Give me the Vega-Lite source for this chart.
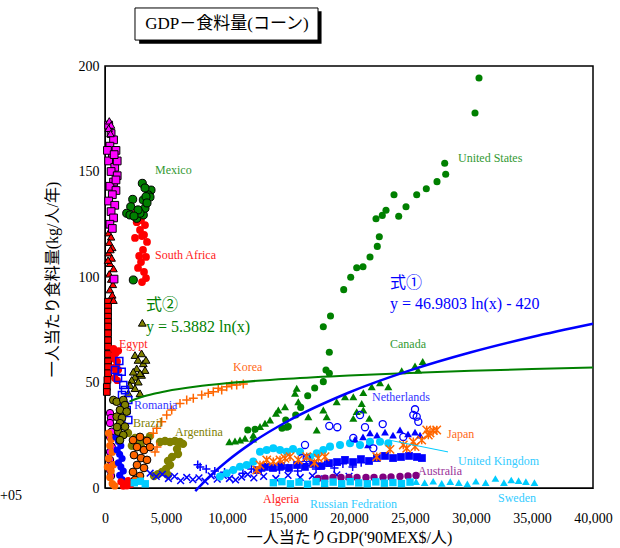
{
  "$schema": "https://vega.github.io/schema/vega-lite/v6.json",
  "width": 488,
  "height": 422,
  "autosize": "none",
  "padding": {"left": 105, "top": 66, "right": 27, "bottom": 60},
  "background": "white",
  "config": {"view": {"stroke": "black", "strokeWidth": 1.5}, "font": "Liberation Serif"},
  "datasets": {
    "titlebox": [{"x": 2459, "x2": 17460, "y": 227.5, "y2": 212.3}],
    "titleshadow": [{"x": 2800, "x2": 17750, "y": 226.0, "y2": 210.6}],
    "titletext": [{"x": 10000, "y": 220.0, "t": "GDP－食料量(コーン)"}],
    "redsq": [{"x":250,"y":88.3},{"x":250,"y":85.9},{"x":250,"y":83.6},{"x":250,"y":81.2},{"x":250,"y":78.8},{"x":250,"y":76.5},{"x":250,"y":73.3},{"x":250,"y":70.0},{"x":250,"y":67.0},{"x":250,"y":63.5},{"x":250,"y":60.0},{"x":250,"y":57.3},{"x":250,"y":54.4},{"x":200,"y":51.2},{"x":150,"y":47.9},{"x":150,"y":45.5}],
    "redtri": [{"x":300,"y":121},{"x":500,"y":119},{"x":350,"y":116.5},{"x":600,"y":114},{"x":300,"y":111.5},{"x":550,"y":109},{"x":400,"y":106.5},{"x":700,"y":104},{"x":350,"y":101.5},{"x":500,"y":99},{"x":650,"y":96.5},{"x":400,"y":94},{"x":600,"y":91.5},{"x":700,"y":89},{"x":450,"y":113},{"x":250,"y":108}],
    "magsq": [{"x":300,"y":172},{"x":500,"y":168},{"x":700,"y":165},{"x":400,"y":162},{"x":900,"y":160},{"x":600,"y":157},{"x":300,"y":155},{"x":800,"y":152},{"x":500,"y":150},{"x":1000,"y":148},{"x":700,"y":145},{"x":400,"y":143},{"x":900,"y":141},{"x":600,"y":139},{"x":300,"y":136},{"x":800,"y":134},{"x":500,"y":131},{"x":700,"y":128},{"x":400,"y":125},{"x":600,"y":123},{"x":900,"y":146},{"x":1000,"y":155},{"x":200,"y":160},{"x":750,"y":158},{"x":740,"y":99}],
    "magtri": [{"x":350,"y":174},{"x":500,"y":172},{"x":300,"y":170.5},{"x":450,"y":168}],
    "magcirc": [{"x":410,"y":35.5},{"x":492,"y":33.2},{"x":410,"y":30.8},{"x":549,"y":26.7},{"x":410,"y":24.2},{"x":549,"y":19.6},{"x":410,"y":17.1},{"x":410,"y":13.3},{"x":549,"y":10.9},{"x":410,"y":8.5},{"x":492,"y":5.7}],
    "egypt": [{"x":700,"y":66},{"x":900,"y":64},{"x":1100,"y":65},{"x":800,"y":61},{"x":1000,"y":60},{"x":700,"y":57},{"x":900,"y":55},{"x":1100,"y":56},{"x":800,"y":52},{"x":1000,"y":51},{"x":750,"y":63},{"x":950,"y":58}],
    "orangefill": [{"x":300,"y":26},{"x":500,"y":23},{"x":400,"y":20},{"x":600,"y":17},{"x":300,"y":14},{"x":700,"y":11},{"x":500,"y":8},{"x":400,"y":5},{"x":600,"y":2},{"x":800,"y":1},{"x":200,"y":10}],
    "bluefill": [{"x":900,"y":24},{"x":1100,"y":22},{"x":1300,"y":20},{"x":1000,"y":18},{"x":1200,"y":16},{"x":1400,"y":14},{"x":1100,"y":12},{"x":1300,"y":10},{"x":1500,"y":8},{"x":1200,"y":6},{"x":1400,"y":4},{"x":1600,"y":3}],
    "algeria": [{"x":1300,"y":3},{"x":1600,"y":2},{"x":1900,"y":3.5},{"x":2100,"y":1.5},{"x":1500,"y":0.8},{"x":1800,"y":1}],
    "orangecirc": [{"x":2295,"y":22.7},{"x":2869,"y":24.2},{"x":3443,"y":22.3},{"x":2623,"y":19.4},{"x":3197,"y":18.0},{"x":3689,"y":19.4},{"x":2377,"y":15.6},{"x":2951,"y":14.2},{"x":3443,"y":13.3},{"x":2623,"y":10.9},{"x":3197,"y":9.5},{"x":2295,"y":7.6},{"x":2869,"y":5.7},{"x":2459,"y":3.8}],
    "olivetri": [{"x":3058,"y":78.3},{"x":2459,"y":63.0},{"x":3000,"y":63.8},{"x":2705,"y":60.7},{"x":3140,"y":59.1},{"x":2599,"y":56.7},{"x":3279,"y":55.9},{"x":2459,"y":52.7},{"x":3000,"y":53.6},{"x":2320,"y":55.1},{"x":2869,"y":54.4},{"x":2189,"y":51.2},{"x":2730,"y":50.4},{"x":2050,"y":48.8},{"x":2459,"y":47.3},{"x":1910,"y":44.9},{"x":2869,"y":44.9},{"x":3361,"y":60.7}],
    "romania": [{"x":1172,"y":60.2},{"x":820,"y":55.9},{"x":1369,"y":55.1},{"x":1066,"y":52.1},{"x":1500,"y":48.8},{"x":1639,"y":46.4},{"x":1393,"y":44.1},{"x":1910,"y":41.7},{"x":1779,"y":37.0},{"x":1910,"y":32.2},{"x":1557,"y":39.3}],
    "brazil": [{"x":680,"y":41.7},{"x":959,"y":40.9},{"x":1500,"y":41.7},{"x":1639,"y":39.3},{"x":1230,"y":37.0},{"x":1779,"y":36.2},{"x":959,"y":33.8},{"x":1393,"y":33.2},{"x":1230,"y":30.7},{"x":1639,"y":29.1},{"x":1090,"y":26.7},{"x":1500,"y":25.1},{"x":1230,"y":22.7},{"x":984,"y":28.9}],
    "argentina": [{"x":4508,"y":21.8},{"x":4918,"y":22.3},{"x":5328,"y":21.8},{"x":5738,"y":22.3},{"x":6148,"y":21.8},{"x":6394,"y":20.9},{"x":5902,"y":18.5},{"x":5984,"y":16.1},{"x":5492,"y":14.7},{"x":5164,"y":12.8},{"x":5328,"y":10.9},{"x":5000,"y":9.0},{"x":4672,"y":7.6},{"x":4344,"y":6.6},{"x":5164,"y":6.2},{"x":4016,"y":5.7},{"x":1885,"y":26.1},{"x":2459,"y":23.7},{"x":2869,"y":21.3},{"x":3279,"y":22.7},{"x":3689,"y":24.6},{"x":2200,"y":20},{"x":3000,"y":19}],
    "mexico": [{"x":3058,"y":144.4},{"x":3771,"y":141.2},{"x":3550,"y":138.9},{"x":3279,"y":142.2},{"x":3689,"y":137.9},{"x":3140,"y":136.5},{"x":2271,"y":136.8},{"x":2107,"y":133.3},{"x":1779,"y":130.2},{"x":2050,"y":129.4},{"x":2599,"y":127.8},{"x":3140,"y":129.4},{"x":3279,"y":132.6},{"x":2869,"y":130.2},{"x":3361,"y":138.1},{"x":2705,"y":131.8},{"x":2377,"y":128.9},{"x":3443,"y":135.1},{"x":2320,"y":98.6}],
    "safrica": [{"x":2623,"y":130.8},{"x":2951,"y":127.0},{"x":3279,"y":124.6},{"x":2869,"y":122.3},{"x":2459,"y":118.5},{"x":3033,"y":119.4},{"x":3443,"y":116.6},{"x":3115,"y":112.8},{"x":3361,"y":109.5},{"x":2951,"y":107.1},{"x":2705,"y":104.3},{"x":3197,"y":102.4},{"x":3361,"y":99.5},{"x":3033,"y":97.6},{"x":2800,"y":110},{"x":3200,"y":120},{"x":2600,"y":126}],
    "korea": [{"x":3959,"y":25.9},{"x":4238,"y":28.3},{"x":4648,"y":31.4},{"x":5058,"y":34.6},{"x":5468,"y":37.0},{"x":6148,"y":40.1},{"x":6697,"y":41.7},{"x":7238,"y":42.5},{"x":7926,"y":44.1},{"x":8467,"y":44.9},{"x":8877,"y":45.6},{"x":9287,"y":47.3},{"x":9566,"y":46.4},{"x":9976,"y":48.0},{"x":10386,"y":48.8},{"x":10795,"y":48.8},{"x":11336,"y":49.3},{"x":4100,"y":17.1},{"x":4262,"y":19.4}],
    "bluex": [{"x":3700,"y":7},{"x":4200,"y":5.5},{"x":4700,"y":6.5},{"x":5200,"y":4.5},{"x":5700,"y":5.5},{"x":6200,"y":3.5},{"x":6700,"y":5},{"x":7200,"y":4},{"x":7700,"y":4.8},{"x":8200,"y":3.2},{"x":8700,"y":5.8},{"x":9200,"y":4.2},{"x":9700,"y":6},{"x":10200,"y":4.5},{"x":10700,"y":3.8},{"x":11200,"y":5.2},{"x":11700,"y":6.5},{"x":12200,"y":4.8},{"x":13000,"y":5.5},{"x":14000,"y":4.5},{"x":15000,"y":6},{"x":16000,"y":5},{"x":17000,"y":5.8},{"x":18000,"y":4.3},{"x":19000,"y":6.2},{"x":20000,"y":5.5}],
    "blueplus": [{"x":7600,"y":11},{"x":7800,"y":10},{"x":8300,"y":9},{"x":9000,"y":8},{"x":9800,"y":7.5},{"x":10500,"y":8.5},{"x":11300,"y":7},{"x":12000,"y":9},{"x":12800,"y":8},{"x":13500,"y":10},{"x":14300,"y":8.5},{"x":15000,"y":9.5},{"x":15800,"y":8},{"x":16500,"y":10.5},{"x":17300,"y":9},{"x":18000,"y":11},{"x":18800,"y":9.5},{"x":19500,"y":11.5},{"x":20300,"y":10},{"x":21000,"y":12}],
    "bluesq": [{"x":12460,"y":8.5},{"x":13115,"y":10},{"x":13770,"y":9.5},{"x":14430,"y":10.4},{"x":15080,"y":9.5},{"x":15740,"y":10.9},{"x":16390,"y":10},{"x":17050,"y":11.4},{"x":17700,"y":10.4},{"x":18360,"y":11.8},{"x":19020,"y":12.3},{"x":19670,"y":13.3},{"x":20330,"y":12.3},{"x":20980,"y":13.7},{"x":21640,"y":12.8},{"x":22290,"y":14.2},{"x":22950,"y":15.2},{"x":23610,"y":14.2},{"x":24260,"y":14.7},{"x":24920,"y":15.2},{"x":25570,"y":14.7},{"x":25980,"y":14.2}],
    "bluetri": [{"x":21148,"y":24.2},{"x":21722,"y":26.1},{"x":22296,"y":25.1},{"x":22952,"y":26.5},{"x":23607,"y":25.1},{"x":24181,"y":27.5},{"x":24837,"y":25.6},{"x":25411,"y":26.5},{"x":25821,"y":25.1},{"x":21558,"y":20.4},{"x":20500,"y":23}],
    "canada": [{"x":10189,"y":21.9},{"x":10656,"y":22.3},{"x":11066,"y":22.7},{"x":11476,"y":23.6},{"x":12132,"y":23.2},{"x":12156,"y":25.1},{"x":12705,"y":29.1},{"x":13115,"y":30.7},{"x":13525,"y":32.2},{"x":14017,"y":35.4},{"x":14206,"y":37.0},{"x":14755,"y":38.5},{"x":15575,"y":44.9},{"x":15845,"y":40.9},{"x":15714,"y":47.3},{"x":16665,"y":33.8},{"x":17353,"y":27.5},{"x":17894,"y":37.0},{"x":18173,"y":33.8},{"x":18992,"y":40.9},{"x":19673,"y":43.3},{"x":20353,"y":43.3},{"x":21173,"y":45.2},{"x":21861,"y":48.0},{"x":22542,"y":49.9},{"x":23222,"y":48.0},{"x":20632,"y":36.2},{"x":21042,"y":40.1},{"x":21173,"y":37.0},{"x":20353,"y":33.0},{"x":21665,"y":33.0},{"x":24320,"y":55.6},{"x":25411,"y":57.8},{"x":26042,"y":59.9},{"x":25657,"y":55.9}],
    "us": [{"x":30656,"y":194.3},{"x":30328,"y":177.7},{"x":27845,"y":153.9},{"x":27927,"y":148.7},{"x":27214,"y":145.2},{"x":26337,"y":141.8},{"x":25550,"y":139.0},{"x":24673,"y":133.3},{"x":24075,"y":128.8},{"x":23689,"y":139.0},{"x":23033,"y":131.6},{"x":22730,"y":129.2},{"x":22214,"y":127.6},{"x":22484,"y":119.1},{"x":22320,"y":114.5},{"x":21722,"y":109.5},{"x":21148,"y":104.9},{"x":20632,"y":104.4},{"x":20140,"y":99.9},{"x":19566,"y":94.0},{"x":18484,"y":81.5},{"x":17894,"y":76.4},{"x":18386,"y":64.3},{"x":18115,"y":55.9},{"x":18386,"y":54.4},{"x":17894,"y":50.4},{"x":17189,"y":47.4},{"x":16615,"y":43.7},{"x":16041,"y":38.2},{"x":15631,"y":34.6},{"x":14894,"y":28.8},{"x":14812,"y":32.2},{"x":15025,"y":29.1},{"x":14509,"y":28.3},{"x":11700,"y":27.5},{"x":12300,"y":27.8}],
    "netherlands": [{"x":16394,"y":20.4},{"x":16533,"y":14.1},{"x":16124,"y":14.1},{"x":18386,"y":29.4},{"x":19042,"y":28.8},{"x":20353,"y":23.7},{"x":20902,"y":34.6},{"x":21312,"y":28.8},{"x":21993,"y":18.8},{"x":22763,"y":30.3},{"x":24451,"y":24.2},{"x":25271,"y":34.6},{"x":25411,"y":37.3},{"x":25550,"y":33.8},{"x":25681,"y":31.4}],
    "japan": [{"x":12435,"y":8.5},{"x":12705,"y":10.9},{"x":13254,"y":13.3},{"x":13795,"y":12.5},{"x":14345,"y":13.3},{"x":14755,"y":14.1},{"x":15165,"y":14.8},{"x":15845,"y":13.3},{"x":16533,"y":14.8},{"x":17156,"y":12.0},{"x":17484,"y":14.1},{"x":18033,"y":14.8},{"x":22271,"y":14.8},{"x":23361,"y":18.3},{"x":24451,"y":20.4},{"x":24730,"y":18.8},{"x":25271,"y":21.9},{"x":25411,"y":19.6},{"x":25960,"y":22.7},{"x":26370,"y":27.5},{"x":26501,"y":25.1},{"x":26911,"y":27.2},{"x":27190,"y":27.5},{"x":26640,"y":26.1}],
    "uk": [{"x":9426,"y":5.4},{"x":9976,"y":7.0},{"x":10517,"y":8.5},{"x":11066,"y":10.1},{"x":11615,"y":10.9},{"x":12156,"y":12.5},{"x":12705,"y":17.2},{"x":13254,"y":18.0},{"x":13795,"y":18.8},{"x":14345,"y":18.0},{"x":14894,"y":17.2},{"x":15411,"y":18.5},{"x":15984,"y":17.2},{"x":16804,"y":14.8},{"x":17353,"y":16.4},{"x":17894,"y":18.0},{"x":18443,"y":19.6},{"x":19263,"y":20.4},{"x":20083,"y":21.2},{"x":20902,"y":20.4},{"x":21722,"y":21.9},{"x":22542,"y":21.9},{"x":23222,"y":21.2}],
    "australia": [{"x":17459,"y":4.5},{"x":18033,"y":4.7},{"x":18689,"y":5.0},{"x":19345,"y":5.0},{"x":20001,"y":5.0},{"x":20656,"y":5.0},{"x":21394,"y":5.0},{"x":22050,"y":5.0},{"x":22788,"y":5.1},{"x":23443,"y":5.2},{"x":24181,"y":5.5},{"x":24837,"y":5.7},{"x":25493,"y":5.9}],
    "russia": [{"x":2400,"y":2.5},{"x":2900,"y":3.2},{"x":3300,"y":2},{"x":13800,"y":2.5},{"x":14500,"y":3},{"x":15200,"y":2},{"x":15900,"y":2.8},{"x":16600,"y":1.8},{"x":17300,"y":3},{"x":18000,"y":2.2},{"x":18700,"y":2.8},{"x":19400,"y":2},{"x":20100,"y":3},{"x":20800,"y":2.4},{"x":21500,"y":2},{"x":22200,"y":2.9},{"x":22900,"y":2.3},{"x":23600,"y":2.6},{"x":24300,"y":2.1},{"x":25000,"y":2.8}],
    "sweden": [{"x":25500,"y":3},{"x":26200,"y":2.5},{"x":26900,"y":3.2},{"x":27600,"y":2.2},{"x":28300,"y":3},{"x":29000,"y":2.5},{"x":29700,"y":2},{"x":30400,"y":3.2},{"x":31200,"y":2.5},{"x":32000,"y":4.5},{"x":32700,"y":2.5},{"x":33300,"y":3.8},{"x":33900,"y":3.5},{"x":34500,"y":3},{"x":35200,"y":2.5}],
    "fit2": [{"x":2000,"y":40.95},{"x":3000,"y":43.14},{"x":4000,"y":44.69},{"x":5000,"y":45.89},{"x":7500,"y":48.08},{"x":10000,"y":49.63},{"x":15000,"y":51.81},{"x":20000,"y":53.36},{"x":25000,"y":54.56},{"x":30000,"y":55.55},{"x":35000,"y":56.38},{"x":40000,"y":57.10}],
    "fit1": [{"x":7400,"y":-1.44},{"x":8000,"y":2.22},{"x":9000,"y":7.75},{"x":10000,"y":12.70},{"x":12000,"y":21.27},{"x":15000,"y":31.75},{"x":20000,"y":45.27},{"x":25000,"y":55.75},{"x":30000,"y":64.32},{"x":35000,"y":71.56},{"x":40000,"y":77.83}],
    "ukline": [{"x":23279,"y":22.7,"x2":28115,"y2":17.1}],
    "labels": [
      {"x":4098,"y":150.7,"t":"Mexico"},
      {"x":4098,"y":110.4,"t":"South Africa"},
      {"x":28935,"y":156.4,"t":"United States"},
      {"x":23361,"y":68.2,"t":"Canada"},
      {"x":1148,"y":68.2,"t":"Egypt"},
      {"x":10492,"y":57.3,"t":"Korea"},
      {"x":2377,"y":39.3,"t":"Romania"},
      {"x":21886,"y":43.1,"t":"Netherlands"},
      {"x":2295,"y":30.8,"t":"Brazil"},
      {"x":5738,"y":26.5,"t":"Argentina"},
      {"x":28034,"y":25.6,"t":"Japan"},
      {"x":28935,"y":12.8,"t":"United Kingdom"},
      {"x":25657,"y":8.1,"t":"Australia"},
      {"x":12951,"y":-5.2,"t":"Algeria"},
      {"x":16804,"y":-7.6,"t":"Russian Fedration"},
      {"x":32214,"y":-4.7,"t":"Sweden"}
    ],
    "eqs": [
      {"x":3361,"y":86.7,"t":"式②"},
      {"x":3361,"y":76.3,"t":"y = 5.3882 ln(x)"},
      {"x":23361,"y":97.2,"t":"式①"},
      {"x":23361,"y":87.2,"t":"y = 46.9803 ln(x) - 420"}
    ],
    "corner": [{"x":-8607,"y":-3.8,"t":"+05"}]
  },
  "encoding": {
    "x": {"field": "x", "type": "quantitative",
      "scale": {"domain": [0, 40000], "nice": false, "zero": false},
      "axis": {"title": "一人当たりGDP('90MEX$/人)", "values": [0,5000,10000,15000,20000,25000,30000,35000,40000], "format": ",.0f",
        "grid": false, "ticks": false, "labelPadding": 23, "labelFlush": false, "labelFont": "Liberation Serif", "labelFontSize": 14, "labelColor": "black",
        "domainColor": "black", "titleFont": "Liberation Serif, Noto Sans CJK JP", "titleFontSize": 16, "titleFontWeight": "normal", "titleColor": "black",
        "titleY": 49, "titleBaseline": "middle"}},
    "y": {"field": "y", "type": "quantitative",
      "scale": {"domain": [0, 200], "nice": false},
      "axis": {"title": "一人当たり食料量(kg/人/年)", "values": [0,50,100,150,200], "format": ".0f", "grid": false, "ticks": false, "labelPadding": 6,
        "labelFont": "Liberation Serif", "labelFontSize": 14, "labelColor": "black", "domainColor": "black",
        "titleFont": "Liberation Serif, Noto Sans CJK JP", "titleFontSize": 16, "titleFontWeight": "normal", "titleColor": "black",
        "titleX": -53, "titleY": 213, "titleAlign": "center", "titleBaseline": "middle", "titleAngle": -90}}
  },
  "layer": [
    {"data": {"name": "titleshadow"}, "mark": {"type": "rect", "fill": "black"}, "encoding": {"x2": {"field": "x2"}, "y2": {"field": "y2"}}},
    {"data": {"name": "titlebox"}, "mark": {"type": "rect", "fill": "white", "stroke": "black", "strokeWidth": 1}, "encoding": {"x2": {"field": "x2"}, "y2": {"field": "y2"}}},
    {"data": {"name": "titletext"}, "mark": {"type": "text", "font": "Liberation Serif, Noto Sans CJK JP", "fontSize": 17, "align": "center", "baseline": "middle", "color": "black"}, "encoding": {"text": {"field": "t"}}},

    {"data": {"name": "redsq"}, "mark": {"type": "point", "shape": "square", "filled": true, "fill": "#FF0000", "stroke": "black", "strokeWidth": 1, "size": 45, "opacity": 1}},
    {"data": {"name": "redtri"}, "mark": {"type": "point", "shape": "triangle-up", "filled": true, "fill": "#FF0000", "stroke": "black", "strokeWidth": 1, "size": 55, "opacity": 1}},
    {"data": {"name": "magsq"}, "mark": {"type": "point", "shape": "square", "filled": true, "fill": "#FF00FF", "stroke": "black", "strokeWidth": 1, "size": 60, "opacity": 1}},
    {"data": {"name": "magtri"}, "mark": {"type": "point", "shape": "triangle-up", "filled": true, "fill": "#FF00FF", "stroke": "black", "strokeWidth": 1, "size": 55, "opacity": 1}},
    {"data": {"name": "magcirc"}, "mark": {"type": "point", "shape": "circle", "filled": true, "fill": "#FF00FF", "stroke": "black", "strokeWidth": 1, "size": 55, "opacity": 1}},
    {"data": {"name": "egypt"}, "mark": {"type": "point", "shape": "circle", "filled": true, "color": "#FF0000", "size": 55, "opacity": 1}},
    {"data": {"name": "orangefill"}, "mark": {"type": "point", "shape": "circle", "filled": true, "color": "#FF6600", "size": 55, "opacity": 1}},
    {"data": {"name": "bluefill"}, "mark": {"type": "point", "shape": "circle", "filled": true, "color": "#0000FF", "size": 50, "opacity": 1}},
    {"data": {"name": "algeria"}, "mark": {"type": "point", "shape": "circle", "filled": true, "color": "#FF0000", "size": 50, "opacity": 1}},
    {"data": {"name": "argentina"}, "mark": {"type": "point", "shape": "circle", "filled": true, "color": "#808000", "size": 70, "opacity": 1}},
    {"data": {"name": "orangecirc"}, "mark": {"type": "point", "shape": "circle", "filled": true, "fill": "#FF6600", "stroke": "black", "strokeWidth": 1, "size": 60, "opacity": 1}},
    {"data": {"name": "olivetri"}, "mark": {"type": "point", "shape": "triangle-up", "filled": true, "fill": "#808000", "stroke": "black", "strokeWidth": 1, "size": 60, "opacity": 1}},
    {"data": {"name": "romania"}, "mark": {"type": "point", "shape": "square", "filled": false, "color": "#0000FF", "strokeWidth": 1.5, "size": 50, "opacity": 1}},
    {"data": {"name": "brazil"}, "mark": {"type": "point", "shape": "circle", "filled": true, "fill": "#808000", "stroke": "black", "strokeWidth": 1, "size": 60, "opacity": 1}},
    {"data": {"name": "safrica"}, "mark": {"type": "point", "shape": "circle", "filled": true, "color": "#FF0000", "size": 60, "opacity": 1}},
    {"data": {"name": "mexico"}, "mark": {"type": "point", "shape": "circle", "filled": true, "fill": "#008000", "stroke": "black", "strokeWidth": 1, "size": 65, "opacity": 1}},
    {"data": {"name": "korea"}, "mark": {"type": "point", "shape": "M-1,0L1,0M0,-1L0,1", "filled": false, "color": "#FF6600", "strokeWidth": 1.5, "size": 80, "opacity": 1}},
    {"data": {"name": "bluex"}, "mark": {"type": "point", "shape": "M-1,-1L1,1M-1,1L1,-1", "filled": false, "color": "#0000FF", "strokeWidth": 1.5, "size": 45, "opacity": 1}},
    {"data": {"name": "blueplus"}, "mark": {"type": "point", "shape": "M-1,0L1,0M0,-1L0,1", "filled": false, "color": "#0000FF", "strokeWidth": 1.5, "size": 70, "opacity": 1}},
    {"data": {"name": "bluesq"}, "mark": {"type": "point", "shape": "square", "filled": true, "color": "#0000FF", "size": 60, "opacity": 1}},
    {"data": {"name": "bluetri"}, "mark": {"type": "point", "shape": "triangle-up", "filled": true, "color": "#0000FF", "size": 60, "opacity": 1}},
    {"data": {"name": "uk"}, "mark": {"type": "point", "shape": "circle", "filled": true, "color": "#00CCFF", "size": 65, "opacity": 1}},
    {"data": {"name": "australia"}, "mark": {"type": "point", "shape": "circle", "filled": true, "color": "#800080", "size": 55, "opacity": 1}},
    {"data": {"name": "russia"}, "mark": {"type": "point", "shape": "square", "filled": true, "color": "#00CCFF", "size": 55, "opacity": 1}},
    {"data": {"name": "sweden"}, "mark": {"type": "point", "shape": "triangle-up", "filled": true, "color": "#00CCFF", "size": 60, "opacity": 1}},
    {"data": {"name": "canada"}, "mark": {"type": "point", "shape": "triangle-up", "filled": true, "color": "#008000", "size": 65, "opacity": 1}},
    {"data": {"name": "us"}, "mark": {"type": "point", "shape": "circle", "filled": true, "color": "#008000", "size": 50, "opacity": 1}},
    {"data": {"name": "netherlands"}, "mark": {"type": "point", "shape": "circle", "filled": false, "color": "#0000FF", "strokeWidth": 1.3, "size": 50, "opacity": 1}},
    {"data": {"name": "japan"}, "mark": {"type": "point", "shape": "M-1,-1L1,1M-1,1L1,-1M0,-1L0,1", "filled": false, "color": "#FF6600", "strokeWidth": 1.5, "size": 70, "opacity": 1}},

    {"data": {"name": "fit2"}, "mark": {"type": "line", "color": "#008000", "strokeWidth": 2, "interpolate": "monotone"}, "encoding": {}},
    {"data": {"name": "fit1"}, "mark": {"type": "line", "color": "#0000FF", "strokeWidth": 2.5, "interpolate": "monotone"}, "encoding": {}},
    {"data": {"name": "ukline"}, "mark": {"type": "rule", "color": "#00CCFF", "strokeWidth": 1}, "encoding": {"x2": {"field": "x2"}, "y2": {"field": "y2"}}},

    {"data": {"name": "labels"}, "mark": {"type": "text", "font": "Liberation Serif", "fontSize": 12, "align": "left", "baseline": "middle"},
      "encoding": {"text": {"field": "t"},
        "color": {"field": "t", "type": "nominal", "legend": null,
          "scale": {"domain": ["Mexico","South Africa","United States","Canada","Egypt","Korea","Romania","Netherlands","Brazil","Argentina","Japan","United Kingdom","Australia","Algeria","Russian Fedration","Sweden","式②","y = 5.3882 ln(x)","式①","y = 46.9803 ln(x) - 420"],
                    "range": ["#339933","#FF2020","#339933","#339933","#FF2020","#FF6A20","#3333FF","#3333FF","#808000","#808000","#FF6A20","#33CCFF","#993399","#FF2020","#33CCFF","#33CCFF","#008000","#008000","#0000FF","#0000FF"]}}}},
    {"data": {"name": "eqs"}, "mark": {"type": "text", "font": "Liberation Serif, Noto Sans CJK JP", "fontSize": 16, "align": "left", "baseline": "middle"},
      "encoding": {"text": {"field": "t"}, "color": {"field": "t", "type": "nominal", "legend": null}}},
    {"data": {"name": "corner"}, "mark": {"type": "text", "font": "Liberation Serif", "fontSize": 14, "align": "left", "baseline": "middle", "color": "black"}, "encoding": {"text": {"field": "t"}}}
  ]
}
